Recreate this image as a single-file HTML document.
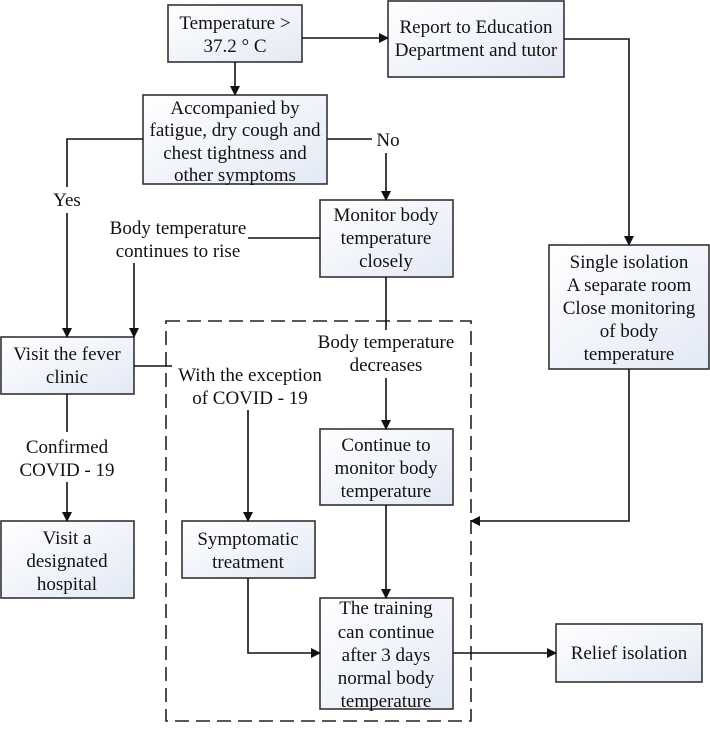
<!DOCTYPE html>
<html><head><meta charset="utf-8"><style>
body{margin:0;background:#fff}
svg{display:block}
.b{stroke:#333;stroke-width:1.6;fill:url(#g)}
.l{stroke:#111;stroke-width:1.6;fill:none}
</style></head><body>
<svg width="710" height="729" viewBox="0 0 710 729" font-family="'Liberation Serif', 'Times New Roman', 'DejaVu Serif', serif" font-size="19" text-anchor="middle" fill="#111">
<defs>
<linearGradient id="g" x1="0" y1="0" x2="1" y2="1"><stop offset="0" stop-color="#ffffff"/><stop offset="1" stop-color="#e3e9f5"/></linearGradient>
<marker id="a" markerWidth="10" markerHeight="10" refX="9" refY="5" orient="auto" markerUnits="userSpaceOnUse"><path d="M0,0 L10,5 L0,10 z" fill="#111"/></marker>
</defs>
<rect class="b" x="168" y="5" width="134" height="57"/>
<text x="235" y="29">Temperature &gt;</text><text x="235" y="52">37.2 ° C</text>
<rect class="b" x="388" y="1" width="176" height="76"/>
<text x="476" y="33">Report to Education</text><text x="476" y="56">Department and tutor</text>
<rect class="b" x="143" y="95" width="184" height="89"/>
<text x="235" y="114">Accompanied by</text><text x="235" y="136">fatigue, dry cough and</text><text x="235" y="159">chest tightness and</text><text x="235" y="181">other symptoms</text>
<rect class="b" x="320" y="200" width="133" height="77"/>
<text x="386" y="221">Monitor body</text><text x="386" y="244">temperature</text><text x="386" y="267">closely</text>
<rect class="b" x="549" y="245" width="160" height="124"/>
<text x="629" y="268">Single isolation</text><text x="629" y="291">A separate room</text><text x="629" y="314">Close monitoring</text><text x="629" y="337">of body</text><text x="629" y="360">temperature</text>
<rect class="b" x="1" y="337" width="133" height="57"/>
<text x="67" y="360">Visit the fever</text><text x="67" y="383">clinic</text>
<rect class="b" x="320" y="429" width="133" height="76"/>
<text x="386" y="451">Continue to</text><text x="386" y="474">monitor body</text><text x="386" y="497">temperature</text>
<rect class="b" x="1" y="521" width="133" height="77"/>
<text x="67" y="544">Visit a</text><text x="67" y="567">designated</text><text x="67" y="590">hospital</text>
<rect class="b" x="182" y="521" width="133" height="57"/>
<text x="248" y="545">Symptomatic</text><text x="248" y="568">treatment</text>
<rect class="b" x="320" y="598" width="133" height="111"/>
<text x="386" y="614">The training</text><text x="386" y="638">can continue</text><text x="386" y="661">after 3 days</text><text x="386" y="684">normal body</text><text x="386" y="707">temperature</text>
<rect class="b" x="556" y="624" width="146" height="58"/>
<text x="629" y="659">Relief isolation</text>
<rect x="166" y="321" width="305" height="400" fill="none" stroke="#222" stroke-width="1.6" stroke-dasharray="14,7"/>
<path class="l" d="M302,38 H388" marker-end="url(#a)"/>
<path class="l" d="M235,62 V95" marker-end="url(#a)"/>
<path class="l" d="M564,39 H629 V245" marker-end="url(#a)"/>
<path class="l" d="M143,139 H67 V187 M67,213 V337" marker-end="url(#a)"/>
<text x="67" y="206">Yes</text>
<path class="l" d="M327,139 H372"/>
<text x="388" y="146">No</text>
<path class="l" d="M386,153 V200" marker-end="url(#a)"/>
<path class="l" d="M320,238 H248"/>
<text x="178" y="234">Body temperature</text><text x="178" y="257">continues to rise</text>
<path class="l" d="M134,263 V337" marker-end="url(#a)"/>
<path class="l" d="M386,277 V330"/>
<text x="386" y="348">Body temperature</text><text x="386" y="371">decreases</text>
<path class="l" d="M386,378 V429" marker-end="url(#a)"/>
<path class="l" d="M134,366 H172"/>
<text x="250" y="381">With the exception</text><text x="250" y="404">of COVID - 19</text>
<path class="l" d="M248,410 V521" marker-end="url(#a)"/>
<path class="l" d="M67,394 V432"/>
<text x="67" y="453">Confirmed</text><text x="67" y="476">COVID - 19</text>
<path class="l" d="M67,482 V521" marker-end="url(#a)"/>
<path class="l" d="M629,369 V521 H471" marker-end="url(#a)"/>
<path class="l" d="M386,505 V598" marker-end="url(#a)"/>
<path class="l" d="M248,578 V653 H320" marker-end="url(#a)"/>
<path class="l" d="M453,653 H556" marker-end="url(#a)"/>
</svg>
</body></html>
